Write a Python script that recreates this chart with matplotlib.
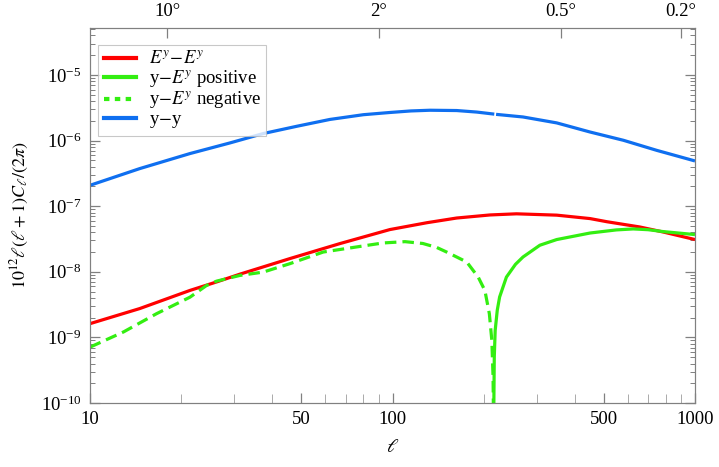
import numpy as np
import matplotlib
matplotlib.use("Agg")
import matplotlib.pyplot as plt
from matplotlib.lines import Line2D
from matplotlib.ticker import LogLocator, FixedLocator, NullFormatter, FixedFormatter

plt.rcParams['font.family'] = ['Liberation Serif', 'DejaVu Serif']
plt.rcParams['mathtext.fontset'] = 'stix'

# data
# y-y, drawn in two pieces (the reference shows a tiny break near l~218)
ell_yy_a = [10, 14.6, 21.4, 29.0, 37.4, 48.2, 62.1, 80.1, 98, 115, 133, 163, 190, 217]
cl_yy_a = [2.08e-7, 3.74e-7, 6.34e-7, 9.2e-7, 1.28e-6, 1.65e-6, 2.1e-6, 2.48e-6, 2.68e-6, 2.83e-6, 2.9e-6, 2.87e-6, 2.72e-6, 2.53e-6]
ell_yy_b = [220, 270, 349, 450, 580, 747, 1000]
cl_yy_b = [2.51e-6, 2.29e-6, 1.86e-6, 1.35e-6, 1.01e-6, 7.1e-7, 4.89e-7]

ell_ee = [10, 14.6, 21.4, 26.2, 31.3, 45.8, 67, 98, 130, 163, 210, 257, 349, 450, 511, 657, 785, 1000]
cl_ee = [1.62e-9, 2.75e-9, 5.2e-9, 7.0e-9, 9.2e-9, 1.59e-8, 2.69e-8, 4.4e-8, 5.6e-8, 6.6e-8, 7.35e-8, 7.65e-8, 7.3e-8, 6.47e-8, 5.8e-8, 4.82e-8, 4.04e-8, 3.1e-8]

ell_neg = [10, 12.9, 16.6, 21.4, 24.3, 26.2, 31.3, 37.4, 45.8, 59, 76, 93, 110, 126, 140, 151, 176, 192, 202, 209, 213, 215, 215.8]
cl_neg = [7.1e-10, 1.21e-9, 2.3e-9, 4.1e-9, 6.2e-9, 7.2e-9, 8.8e-9, 9.9e-9, 1.33e-8, 2.0e-8, 2.39e-8, 2.75e-8, 2.88e-8, 2.7e-8, 2.35e-8, 2.0e-8, 1.41e-8, 8.3e-9, 5.2e-9, 2.3e-9, 9.0e-10, 2.5e-10, 5e-11]

ell_pos = [216, 217, 218.5, 222, 226, 238, 255, 270, 307, 349, 450, 550, 625, 700, 785, 1000]
cl_pos = [5e-11, 5e-10, 1.28e-9, 2.6e-9, 4.13e-9, 8.3e-9, 1.3e-8, 1.68e-8, 2.54e-8, 3.1e-8, 3.9e-8, 4.35e-8, 4.5e-8, 4.38e-8, 4.1e-8, 3.69e-8]

deg_labels = ["10°", "2°", "0.5°", "0.2°"]
deg_values = [10, 2, 0.5, 0.2]

red = '#FF0000'
green = '#33EE11'
blue = '#0F6FF0'
grey = '#808080'

fig = plt.figure(figsize=(7.19, 4.67), dpi=100)
ax = fig.add_axes([90/719, 1-403/467, (695-90)/719, (403-28)/467])

lw = 2.3
ax.plot(ell_yy_a, cl_yy_a, color=blue, lw=lw, solid_capstyle='butt')
ax.plot(ell_yy_b, cl_yy_b, color=blue, lw=lw, solid_capstyle='butt')
ax.plot(ell_ee, cl_ee, color=red, lw=lw, solid_capstyle='butt')
ax.plot(ell_pos, cl_pos, color=green, lw=lw, solid_capstyle='butt')
ax.plot(ell_neg, cl_neg, color=green, lw=lw, dashes=(3.6, 1.9))

ax.set_xscale('log')
ax.set_yscale('log')
ax.set_xlim(10, 1000)
ax.set_ylim(1e-10, 5.2e-5)

for s in ax.spines.values():
    s.set_color(grey)

ax.xaxis.set_major_locator(FixedLocator([10, 50, 100, 500, 1000]))
ax.xaxis.set_major_formatter(FixedFormatter(["10", "50", "100", "500", "1000"]))
ax.xaxis.set_minor_locator(LogLocator(base=10, subs=np.arange(2, 10)))
ax.xaxis.set_minor_formatter(NullFormatter())
ax.yaxis.set_major_locator(LogLocator(base=10, numticks=20))
ax.yaxis.set_minor_locator(LogLocator(base=10, subs=np.arange(2, 10), numticks=20))
ax.yaxis.set_minor_formatter(NullFormatter())

ax.tick_params(which='both', direction='in', color=grey, labelsize=13.5, right=True, top=False)
ax.tick_params(which='major', length=7, width=0.9, pad=6)
ax.tick_params(axis='y', which='minor', length=3.5, width=0.7)
ax.tick_params(axis='x', which='minor', length=6.5, width=0.7, color='#aaaaaa')

ax.set_xlabel(r'$\ell$', fontsize=14, labelpad=8)
ax.set_ylabel(r'$10^{12}\ell(\ell+1)C_\ell/(2\pi)$', fontsize=13, labelpad=7)

top = ax.twiny()
top.set_xscale('log')
top.set_xlim(10, 1000)
top.xaxis.set_major_locator(FixedLocator([180/d for d in deg_values]))
top.xaxis.set_major_formatter(FixedFormatter(deg_labels))
top.xaxis.set_minor_locator(FixedLocator([]))
top.tick_params(which='both', direction='in', color=grey, labelsize=13.5, length=7, width=0.9, pad=6)
top.yaxis.set_visible(False)
top.patch.set_visible(False)
for s in top.spines.values():
    s.set_color(grey)

handles = [
    Line2D([], [], color=red, lw=3),
    Line2D([], [], color=green, lw=3),
    Line2D([], [], color=green, lw=3, dashes=(1.3, 1.3)),
    Line2D([], [], color=blue, lw=3),
]
labels = [r'$E^y\!-\!E^y$', r'y$-E^y$ positive', r'y$-E^y$ negative', 'y$-$y']
leg = ax.legend(handles, labels, loc='upper left', bbox_to_anchor=(8/605, 1-17/375),
                fontsize=13.5, frameon=True, fancybox=False, edgecolor='#bbbbbb',
                borderpad=0.3, labelspacing=0.0, handlelength=1.7, handletextpad=0.7,
                borderaxespad=0)
leg.get_frame().set_linewidth(0.8)

fig.savefig('out.png', dpi=100)
